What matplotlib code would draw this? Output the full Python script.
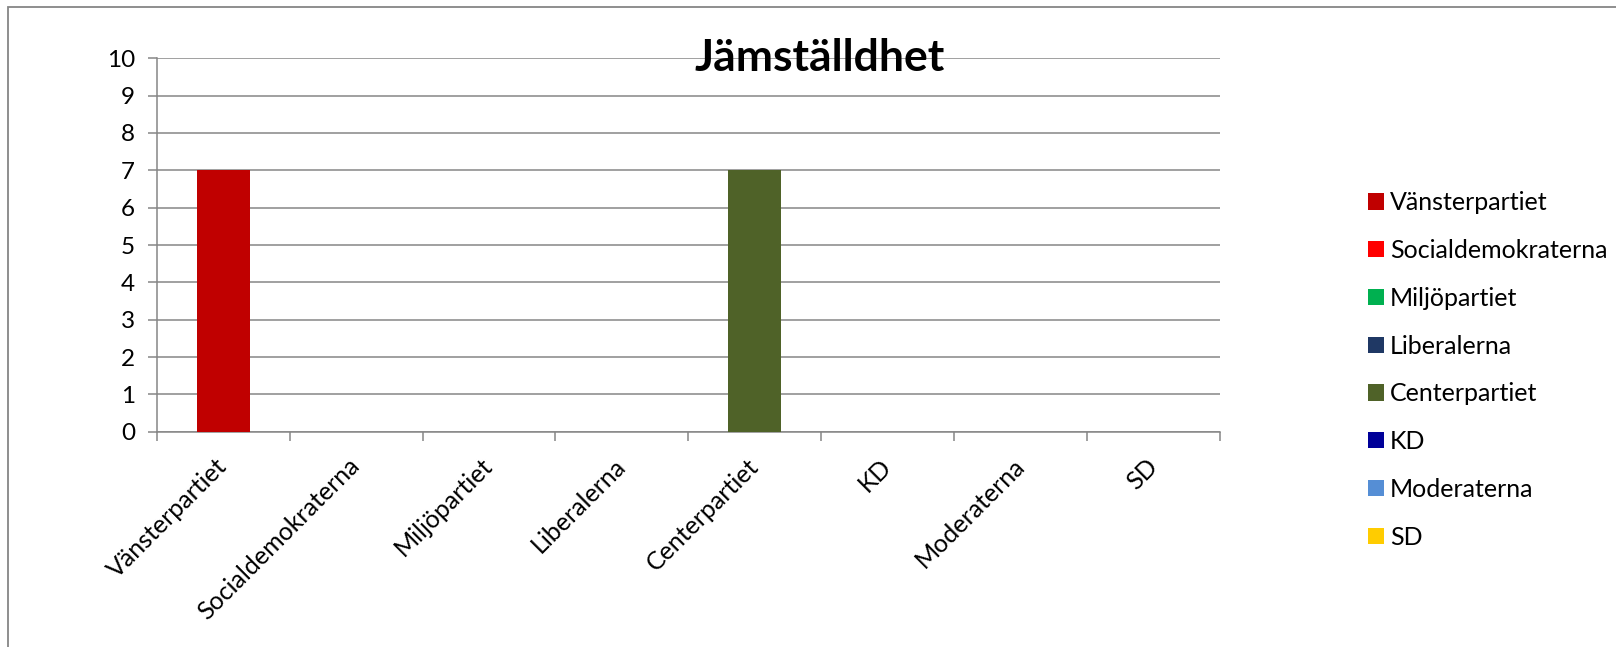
import matplotlib
matplotlib.use("Agg")
import matplotlib.pyplot as plt
from matplotlib.patches import Patch, Rectangle
import numpy as np

categories = ["Vänsterpartiet", "Socialdemokraterna", "Miljöpartiet", "Liberalerna",
              "Centerpartiet", "KD", "Moderaterna", "SD"]
values = [7, 0, 0, 0, 7, 0, 0, 0]
colors = ["#C00000", "#FF0000", "#00B050", "#1F3864",
          "#4F6228", "#000099", "#558ED5", "#FFCC00"]
title = "Jämställdhet"
yticks = list(range(0, 11))

plt.rcParams['font.family'] = ['Lato', 'DejaVu Sans']
grid_c = "#868686"

fig = plt.figure(figsize=(16.16, 6.47), dpi=100)
ax = fig.add_axes([156.7/1616, 1-431.7/647, (1220-156.7)/1616, (431.7-58.3)/647])

x = np.arange(len(categories))
ax.bar(x, values, width=0.4, color=colors, zorder=3)
ax.set_xlim(-0.5, len(categories)-0.5)
ax.set_ylim(0, 10)
ax.set_yticks(yticks)
ax.set_yticklabels([str(v) for v in yticks], fontsize=17.5)
ax.yaxis.grid(True, color=grid_c, linewidth=1.1, zorder=0)
ax.tick_params(axis='y', length=6.5, width=1.1, color=grid_c, pad=9)

ax.set_xticks(x)
ax.set_xticklabels(categories, fontsize=18, rotation=45, ha='right',
                   rotation_mode='anchor', va='center')
ax.tick_params(axis='x', which='major', length=0, pad=22)
ax.set_xticks(np.arange(-0.5, len(categories)), minor=True)
ax.tick_params(axis='x', which='minor', length=6.5, width=1.1, color=grid_c)

for s in ['top', 'right']:
    ax.spines[s].set_visible(False)
for s in ['left', 'bottom']:
    ax.spines[s].set_color(grid_c)
    ax.spines[s].set_linewidth(1.1)

fig.text(820/1616, 1-58/647, title, ha='center', va='center',
         fontsize=32, fontweight='bold')

handles = [Patch(facecolor=c, edgecolor='none') for c in colors]
fig.legend(handles, categories, loc='center left',
           bbox_to_anchor=(1368/1616, 1-370/647), frameon=False,
           fontsize=18, borderpad=0, borderaxespad=0,
           handlelength=0.62, handleheight=0.62, handletextpad=0.25,
           labelspacing=0.99)

fig.patches.append(Rectangle((8/1616, -0.1), 1.2, 1-7/647+0.1,
                             transform=fig.transFigure, fill=False,
                             edgecolor=grid_c, linewidth=1.3))

fig.savefig("out.png", dpi=100)
